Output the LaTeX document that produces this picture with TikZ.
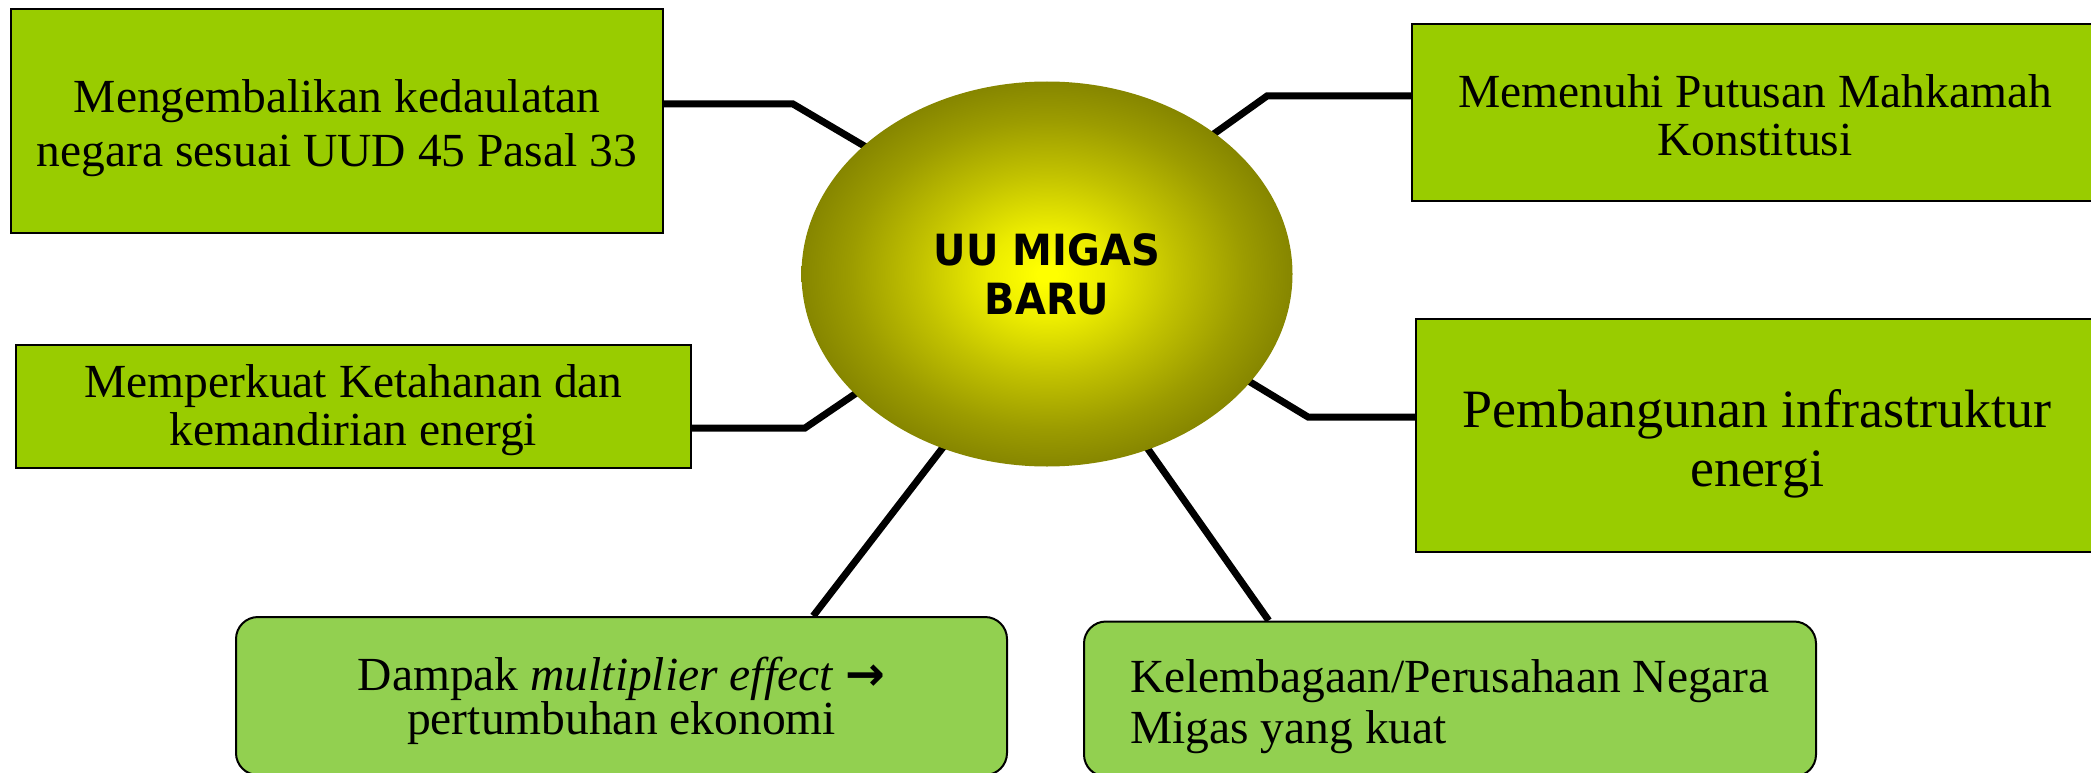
\documentclass[tikz,border=0pt]{standalone}
\usepackage{fontspec}
\setmainfont{Liberation Serif}
\newfontfamily\hubfont[FakeStretch=0.93]{DejaVu Sans}
\newfontfamily\arrowfont{DejaVu Sans}
\usetikzlibrary{shapes.geometric,backgrounds,calc}

\definecolor{leafgreen}{RGB}{153,204,0}
\definecolor{softgreen}{RGB}{146,208,80}
\definecolor{hubedge}{RGB}{134,134,0}
\definecolor{hubcore}{RGB}{255,255,0}
\definecolor{hubinner}{RGB}{236,236,0}
\definecolor{hubmid}{RGB}{194,194,0}
\definecolor{hubouter}{RGB}{156,156,0}
% glowing yellow centre fading to olive at the rim
\pgfdeclareradialshading{hubglow}{\pgfpoint{0bp}{0bp}}{%
  color(0bp)=(hubcore); color(1bp)=(hubcore); color(6bp)=(hubinner);
  color(13bp)=(hubmid); color(20bp)=(hubouter); color(25bp)=(hubedge);
  color(50bp)=(hubedge)}

% invisible strut that lowers a centred text block a little
\newcommand{\lift}[1]{\rule{0pt}{#1pt}}

\begin{document}
\begin{tikzpicture}[x=1pt,y=-1pt,
  leaf/.style={rectangle, draw=black, line width=2pt, fill=leafgreen,
    align=center, inner sep=0pt},
  roundleaf/.style={rectangle, rounded corners=22pt, draw=black, line width=2pt,
    fill=softgreen, inner sep=0pt},
  link/.style={draw=black, line width=7pt, line join=miter, shorten >=-14pt},
  txt/.style={font=\fontsize{47.5}{#1}\selectfont}
]
\useasboundingbox (0,0) rectangle (2091,773);
\clip (0,0) rectangle (2091,773);

% central hub
\node[ellipse, minimum width=491pt, minimum height=385pt, inner sep=0pt,
  shading=hubglow, align=center,
  font=\hubfont\bfseries\fontsize{43}{49}\selectfont] (hub) at (1047,274)
  {UU MIGAS\\BARU};

% surrounding goals
\node[leaf, minimum width=652pt, minimum height=224pt, txt=54] (b1) at (337,121)
  {\lift{46.5}Mengembalikan kedaulatan\\negara sesuai UUD 45 Pasal 33};
\node[leaf, minimum width=686pt, minimum height=177pt, txt=48] (b2) at (1755,112.5)
  {\lift{38.5}Memenuhi Putusan Mahkamah\\Konstitusi};
\node[leaf, minimum width=682pt, minimum height=233pt,
  font=\fontsize{54}{59}\selectfont] (b3) at (1757,435.5)
  {\lift{55}Pembangunan infrastruktur\\energi};
\node[leaf, minimum width=675pt, minimum height=123pt, txt=48] (b4) at (353.5,406.5)
  {\lift{40.5}Memperkuat Ketahanan dan\\kemandirian energi};
\node[roundleaf, align=center, minimum width=771pt, minimum height=158pt, txt=44]
  (b5) at (621.5,696)
  {\lift{43}Dampak \textit{multiplier effect} {\arrowfont\bfseries →}\\pertumbuhan ekonomi};
\node[roundleaf, align=left, minimum width=732pt, minimum height=155pt, txt=51]
  (b6) at (1450,699)
  {\lift{48.6}Kelembagaan/Perusahaan Negara\\Migas yang kuat};

% bend points of the elbow connectors
\coordinate (k1) at (793,104);
\coordinate (k2) at (1267,96);
\coordinate (k3) at (1308,417);
\coordinate (k4) at (805,428);

\begin{scope}[on background layer]
  \draw[link] (b1.east |- k1) -- (k1) -- (hub.145);
  \draw[link] (b2.west |- k2) -- (k2) -- (hub.40);
  \draw[link] (b3.west |- k3) -- (k3) -- (hub.-28);
  \draw[link] (b4.east |- k4) -- (k4) -- (hub.-148);
  \draw[link] ($(b5.north west)!0.748!(b5.north east)$) -- (hub.-121);
  \draw[link] ($(b6.north west)!0.253!(b6.north east)$) -- (hub.-60);
\end{scope}
\end{tikzpicture}
\end{document}
